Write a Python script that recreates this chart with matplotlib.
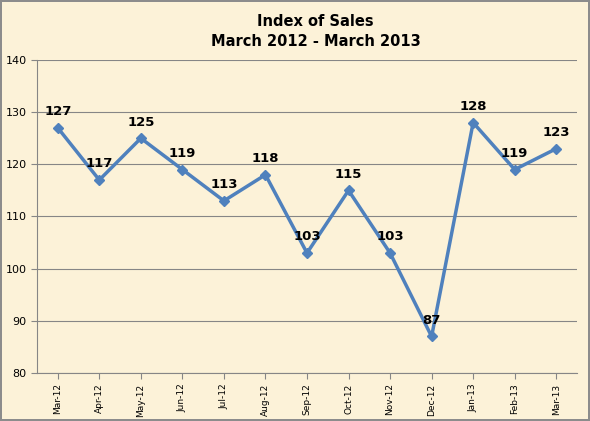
import matplotlib
matplotlib.use("Agg")
import matplotlib.pyplot as plt

months = ["Mar-12","Apr-12","May-12","Jun-12","Jul-12","Aug-12","Sep-12","Oct-12","Nov-12","Dec-12","Jan-13","Feb-13","Mar-13"]
values = [127,117,125,119,113,118,103,115,103,87,128,119,123]
yticks = [80,90,100,110,120,130,140]

fig = plt.figure(figsize=(5.90,4.21), dpi=100)
fig.patch.set_facecolor("#FCF2D8")
fig.patch.set_edgecolor("#8C8C8C")
fig.patch.set_linewidth(1.5)
ax = fig.add_axes([37/590, 1-373/421, 540/590, 313/421])
ax.set_facecolor("#FCF2D8")
x = list(range(len(months)))
ax.plot(x, values, color="#4F81BD", lw=2.5, marker="D", ms=5.5)
for xi, v in zip(x, values):
    ax.annotate(str(v), (xi, v), xytext=(0, 7), textcoords="offset points",
                ha="center", va="bottom", fontsize=9.5, fontweight="bold")
ax.set_xlim(-0.5, len(months)-0.5)
ax.set_ylim(80, 140)
ax.set_yticks(yticks)
ax.set_xticks(x)
ax.set_xticklabels(months, rotation=90, fontsize=6.5)
ax.tick_params(axis="y", labelsize=8, length=4, color="#868686")
ax.tick_params(axis="x", length=4, color="#868686")
ax.grid(axis="y", color="#868686", lw=0.8)
ax.set_axisbelow(True)
for s in ["top","right"]:
    ax.spines[s].set_visible(False)
for s in ["left","bottom"]:
    ax.spines[s].set_color("#868686")
fig.text(0.535, 1-22/421, "Index of Sales", ha="center", va="center", fontsize=10.5, fontweight="bold")
fig.text(0.535, 1-42/421, "March 2012 - March 2013", ha="center", va="center", fontsize=10.5, fontweight="bold")
fig.savefig("out.png", facecolor=fig.get_facecolor(), edgecolor=fig.get_edgecolor())
